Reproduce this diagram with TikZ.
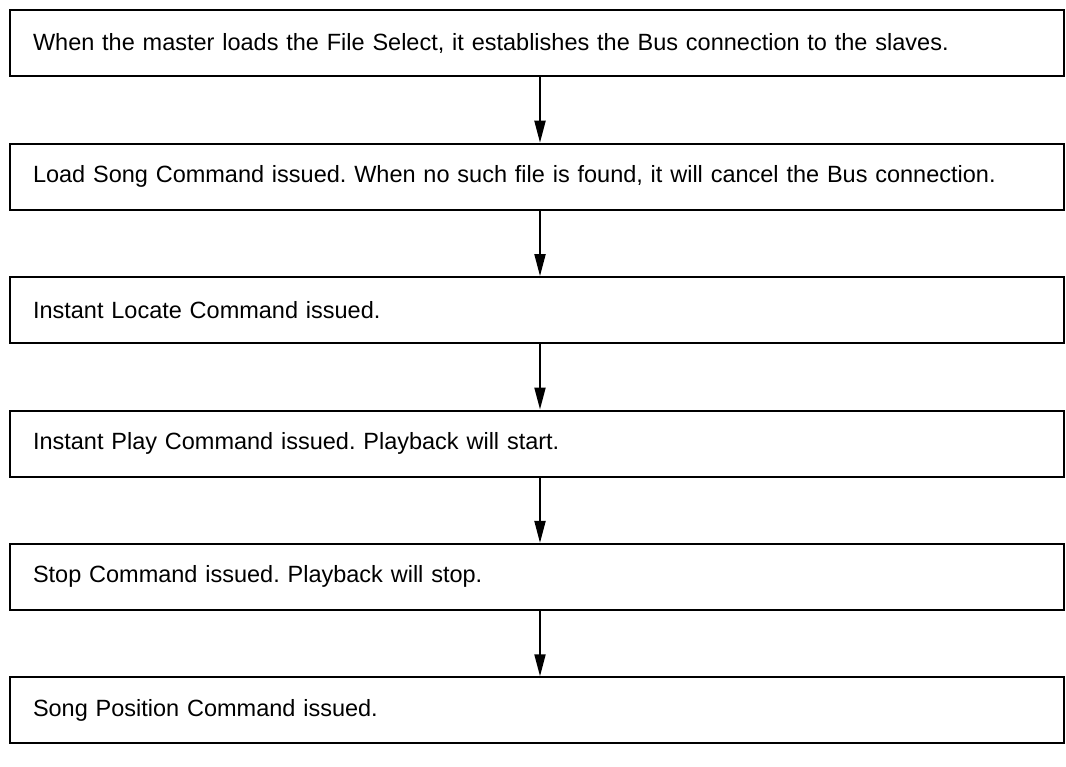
\documentclass[tikz,border=0pt]{standalone}
\usepackage{fontspec}
\setmainfont{Liberation Sans}
\usetikzlibrary{arrows.meta}
\begin{document}
\frenchspacing
\begin{tikzpicture}[x=1pt,y=-1pt,
  stepbox/.style={draw=black, line width=2pt, rectangle, anchor=center,
    minimum width=1054pt, minimum height=66pt, text width=1008pt,
    inner xsep=23pt, inner ysep=0pt, align=left,
    font=\fontsize{23.5}{27}\selectfont},
  flowarrow/.style={line width=2pt, -{Triangle[length=22pt,width=11pt]}}]
\useasboundingbox (0,0) rectangle (1066,767);
\node[stepbox] (b1) at (537,43.3) {When the master loads the File Select, it establishes the Bus connection to the slaves.};
\node[stepbox] (b2) at (537,176.7) {Load Song Command issued. When no such file is found, it will cancel the Bus connection.};
\node[stepbox] (b3) at (537,310.1) {Instant Locate Command issued.};
\node[stepbox] (b4) at (537,443.5) {Instant Play Command issued. Playback will start.};
\node[stepbox] (b5) at (537,576.9) {Stop Command issued. Playback will stop.};
\node[stepbox] (b6) at (537,710.3) {Song Position Command issued.};
\foreach \a/\b in {b1/b2,b2/b3,b3/b4,b4/b5,b5/b6}
  \draw[flowarrow] ([xshift=3pt]\a.south) -- ([xshift=3pt]\b.north);
\end{tikzpicture}
\end{document}
